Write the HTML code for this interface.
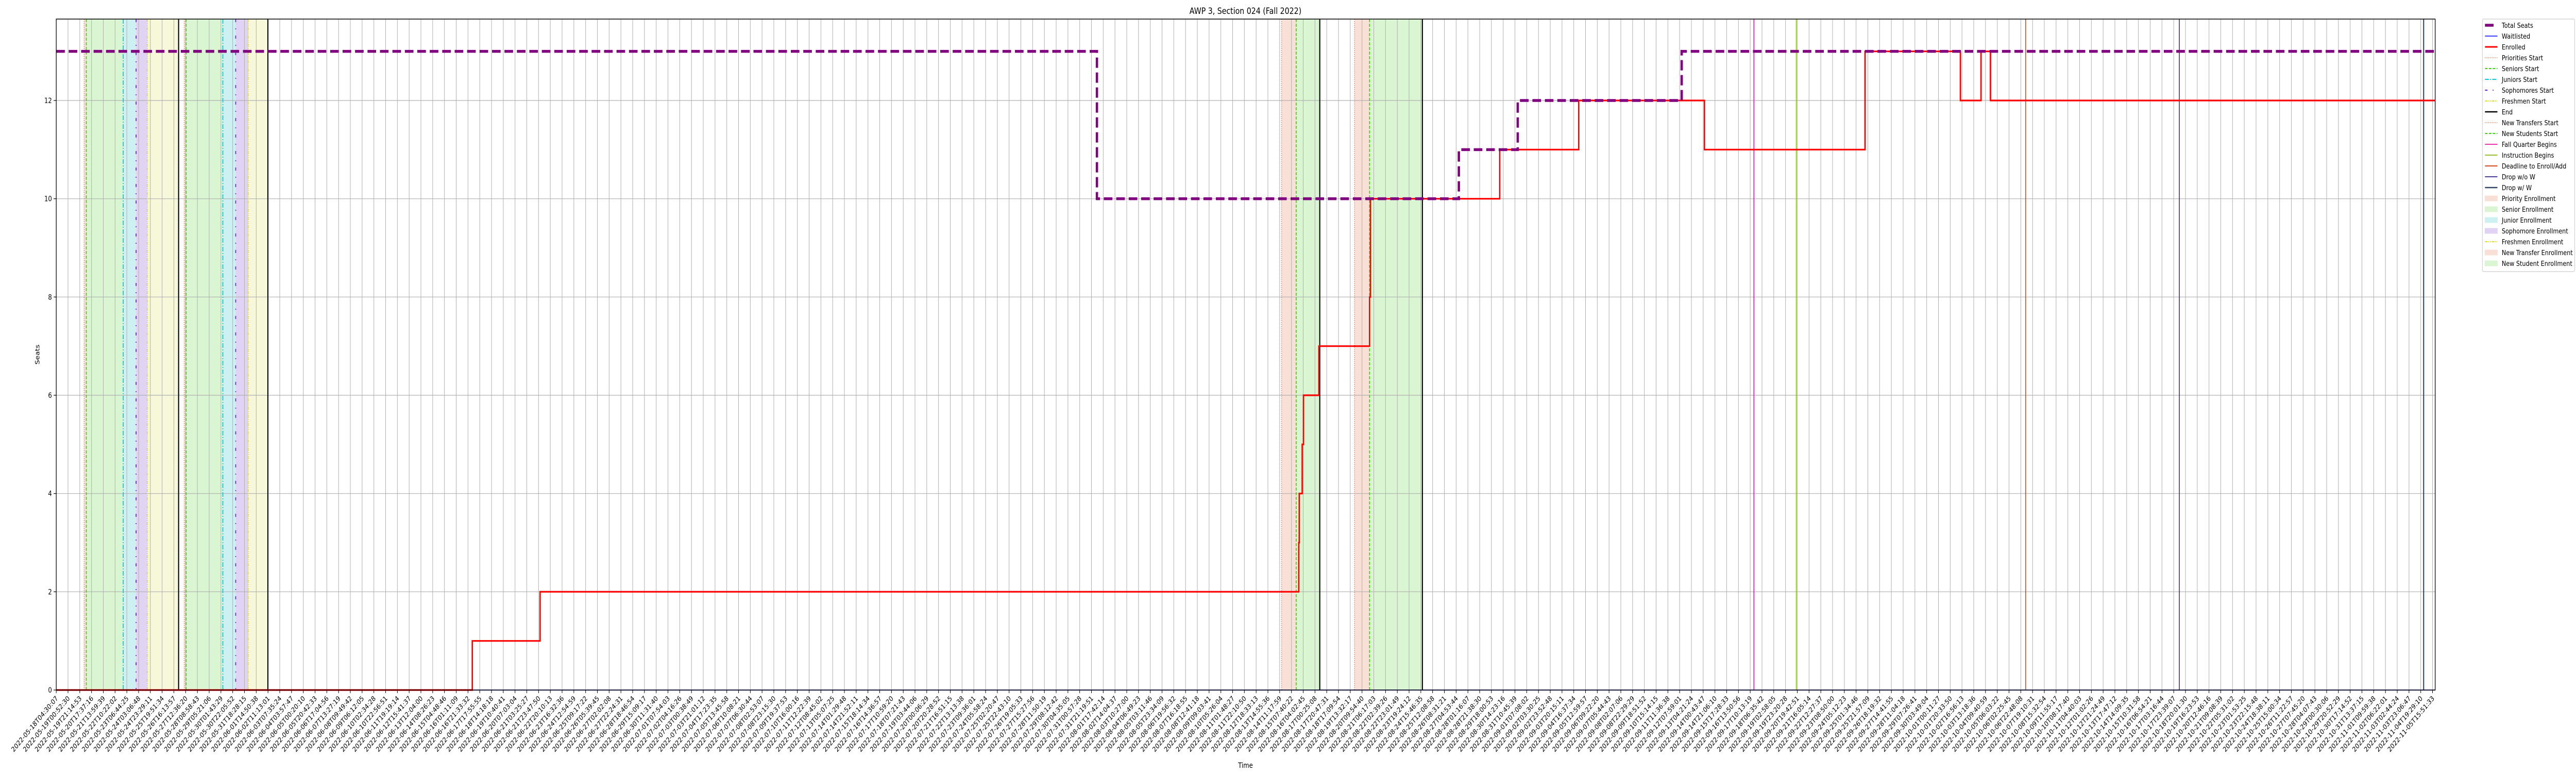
<!DOCTYPE html>
<html><head><meta charset="utf-8"><title>AWP 3, Section 024 (Fall 2022)</title>
<style>html,body{margin:0;padding:0;background:#fff;width:100%;height:100%;overflow:hidden;}svg{display:block;width:100vw;height:100vh;font-family:"DejaVu Sans","Liberation Sans",sans-serif;}</style>
</head><body>
<svg id="chart" viewBox="0 0 6000 1500" preserveAspectRatio="none" xmlns="http://www.w3.org/2000/svg">
<text x="2901" y="27" font-size="17" text-anchor="middle">AWP 3, Section 024 (Fall 2022)</text>
<text x="0" y="0" font-size="14" text-anchor="middle" transform="translate(92,688) rotate(-90)">Seats</text>
<text x="2901" y="1490" font-size="14" text-anchor="middle">Time</text>
<g id="bands"></g><g id="grid"></g><g id="vlines"></g><g id="series"></g><g id="axes"></g><g id="legend"></g>
</svg>
<script>
// ---- data ----
const axisStart = "2022-05-18T04:30:07";
const axisEnd = "2022-11-05T20:28:00";
const tickCount = 203;
const tickStepSeconds = 73343;
const yTicks = [0, 2, 4, 6, 8, 10, 12];

const enrolledTimes = ["2022-05-18T04:30:07","2022-06-17T05:00:00","2022-06-22T02:25:00","2022-08-15T20:24:00","2022-08-15T21:10:00","2022-08-16T02:17:00","2022-08-16T04:30:00","2022-08-17T07:12:00","2022-08-20T23:00:00","2022-08-21T00:30:00","2022-08-30T08:24:00","2022-09-05T01:12:00","2022-09-14T02:53:00","2022-09-25T17:02:00","2022-10-02T14:10:00","2022-10-04T01:55:00","2022-10-04T18:14:00"];
const enrolledValues = [0,1,2,3,4,5,6,7,8,10,11,12,11,13,12,13,12];

const seatTimes = ["2022-05-18T04:30:07","2022-08-01T06:50:00","2022-08-27T09:36:00","2022-08-31T15:36:00","2022-09-12T11:30:00"];
const seatValues = [13,10,11,12,13];

const waitTimes = ["2022-05-18T04:30:07"];
const waitValues = [0];

const bandStarts = ["2022-05-20T04:50:00","2022-05-20T08:33:00","2022-05-23T00:30:00","2022-05-23T22:47:00","2022-05-24T18:07:00",
                    "2022-05-27T10:05:00","2022-05-27T13:26:00","2022-05-30T05:00:00","2022-05-31T03:17:00","2022-06-01T00:52:00",
                    "2022-08-14T14:38:00","2022-08-15T15:50:00","2022-08-19T20:55:00","2022-08-20T23:00:00"];
const bandEnds   = ["2022-05-20T08:33:00","2022-05-23T00:30:00","2022-05-23T22:47:00","2022-05-24T18:07:00","2022-05-27T00:25:00",
                    "2022-05-27T13:26:00","2022-05-30T05:00:00","2022-05-31T03:17:00","2022-06-01T00:52:00","2022-06-02T11:03:00",
                    "2022-08-15T15:50:00","2022-08-17T08:45:00","2022-08-20T23:00:00","2022-08-24T18:29:00"];
const bandKinds  = ["priority","senior","junior","sophomore","freshmen","priority","senior","junior","sophomore","freshmen","transfer","newstudent","transfer","newstudent"];

const lineTimes = ["2022-05-20T04:50:00","2022-05-20T08:33:00","2022-05-23T00:30:00","2022-05-23T22:47:00","2022-05-24T18:07:00","2022-05-27T00:25:00",
                   "2022-05-27T10:05:00","2022-05-27T13:26:00","2022-05-30T05:00:00","2022-05-31T03:17:00","2022-06-01T00:52:00","2022-06-02T11:03:00",
                   "2022-08-14T14:38:00","2022-08-15T15:50:00","2022-08-17T08:45:00","2022-08-19T20:55:00","2022-08-20T23:00:00","2022-08-24T18:29:00",
                   "2022-09-17T16:33:00","2022-09-20T18:00:00","2022-10-07T07:12:00","2022-10-18T09:22:00","2022-11-05T00:29:00"];
const lineKinds = ["priorities","seniors","juniors","sophomores","freshmen","end",
                   "priorities","seniors","juniors","sophomores","freshmen","end",
                   "transfers","newstudents","end","transfers","newstudents","end",
                   "fallbegins","instruction","deadline","dropwow","dropww"];

// ---- styles ----
const bandColor = {priority:"#f9e0d6",senior:"#d9f5d2",junior:"#cdf0f2",sophomore:"#e1d3f4",freshmen:"#f7f8da",transfer:"#f9e0d6",newstudent:"#d9f5d2"};
const lineStyle = {
  priorities:{c:"#f06a30",w:1.6,d:"1.5,2.5"}, seniors:{c:"#44cc11",w:2,d:"6,3"}, juniors:{c:"#00c8d8",w:2,d:"9,3,2,3"},
  sophomores:{c:"#6a1fd8",w:2,d:"6,12,2,12"}, freshmen:{c:"#dddd22",w:2,d:"6,2,2,2,2,2"}, end:{c:"#000",w:2.5,d:""},
  transfers:{c:"#f06a30",w:1.6,d:"1.5,2.5"}, newstudents:{c:"#44cc11",w:2,d:"6,3"},
  fallbegins:{c:"#e815a8",w:1.8,d:""}, instruction:{c:"#88b814",w:1.8,d:""}, deadline:{c:"#d44a1e",w:2,d:""},
  dropwow:{c:"#332288",w:1.8,d:""}, dropww:{c:"#334466",w:2.5,d:""}
};
const NS = "http://www.w3.org/2000/svg";
const L = 131, R = 5672, T = 37, B = 1339;
const t0 = Date.parse(axisStart + "Z"), t1 = Date.parse(axisEnd + "Z");
function xs(s){ const t = (typeof s === "number") ? s : Date.parse(s + "Z"); return L + (t - t0) / (t1 - t0) * (R - L); }
function ys(v){ return B - v / 12 * (B - 195); }
function mk(tag, attrs, parent){ const e = document.createElementNS(NS, tag); for (const k in attrs) e.setAttribute(k, attrs[k]); parent.appendChild(e); return e; }

const gBands = document.getElementById("bands"), gGrid = document.getElementById("grid"),
      gV = document.getElementById("vlines"), gS = document.getElementById("series"),
      gA = document.getElementById("axes"), gL = document.getElementById("legend");

for (let i = 0; i < bandStarts.length; i++) {
  const x0 = xs(bandStarts[i]), x1 = xs(bandEnds[i]);
  const r = mk("rect", {x:x0, y:T, width:x1 - x0, height:B - T, fill:bandColor[bandKinds[i]]}, gBands);
  
  
}
for (let i = 0; i < tickCount; i++) {
  const t = t0 + i * tickStepSeconds * 1000;
  const x = xs(t);
  const gl = mk("line", {x1:x, x2:x, y1:T, y2:B, stroke:"#b0b0b0", "stroke-width":1.2}, gGrid);
  
  
  mk("line", {x1:x, x2:x, y1:B, y2:B + 6, stroke:"#000", "stroke-width":1.2}, gA);
  const lab = new Date(t).toISOString().slice(0, 19);
  const tx = mk("text", {x:0, y:0, "font-size":13.5, "text-anchor":"end", transform:"translate(" + (x + 5) + "," + (B + 17) + ") rotate(-45)"}, gA);
  tx.textContent = lab;
  
  
}
yTicks.forEach(v => {
  const y = ys(v);
  const gl = mk("line", {x1:L, x2:R, y1:y, y2:y, stroke:"#b0b0b0", "stroke-width":1.2}, gGrid);
  
  
  mk("line", {x1:L - 6, x2:L, y1:y, y2:y, stroke:"#000", "stroke-width":1.2}, gA);
  const tx = mk("text", {x:L - 10, y:y + 5, "font-size":14, "text-anchor":"end"}, gA);
  tx.textContent = String(v);
  
  
});
for (let i = 0; i < lineTimes.length; i++) {
  const s = lineStyle[lineKinds[i]], x = xs(lineTimes[i]);
  const ln = mk("line", {x1:x, x2:x, y1:T, y2:B, stroke:s.c, "stroke-width":s.w}, gV);
  if (s.d) ln.setAttribute("stroke-dasharray", s.d);
  
  
}
function stepPath(times, vals){
  let d = "M" + xs(times[0]) + "," + ys(vals[0]);
  for (let i = 1; i < times.length; i++) { const x = xs(times[i]); d += " H" + x + " V" + ys(vals[i]); }
  return d + " H" + R;
}
const wl = mk("path", {d:stepPath(waitTimes, waitValues), fill:"none", stroke:"#0000ff", "stroke-width":1.6}, gS);


const en = mk("path", {d:stepPath(enrolledTimes, enrolledValues), fill:"none", stroke:"#ff0000", "stroke-width":3.2}, gS);


const ts = mk("path", {d:stepPath(seatTimes, seatValues), fill:"none", stroke:"#800080", "stroke-width":5.5, "stroke-dasharray":"20,9"}, gS);


const fr = mk("rect", {x:L, y:T, width:R - L, height:B - T, fill:"none", stroke:"#000", "stroke-width":1.5}, gA);



const legendLabels = ["Total Seats","Waitlisted","Enrolled","Priorities Start","Seniors Start","Juniors Start","Sophomores Start","Freshmen Start","End","New Transfers Start","New Students Start","Fall Quarter Begins","Instruction Begins","Deadline to Enroll/Add","Drop w/o W","Drop w/ W","Priority Enrollment","Senior Enrollment","Junior Enrollment","Sophomore Enrollment","Freshmen Enrollment","New Transfer Enrollment","New Student Enrollment"];
const legendKeys = ["seats","wait","enrolled","priorities","seniors","juniors","sophomores","freshmen","end","transfers","newstudents","fallbegins","instruction","deadline","dropwow","dropww","priority","senior","junior","sophomore","freshmen","transfer","newstudent"];
const lb = mk("rect", {x:5782, y:37, width:215, height:490, rx:3, fill:"#fff", stroke:"#cccccc", "stroke-width":1.2}, gL);


legendLabels.forEach((lab, i) => {
  const y = 49 + i * 21, k = legendKeys[i];
  const g = mk("g", {}, gL);
  
  
  if (k === "seats") mk("line", {x1:5788, x2:5808, y1:y, y2:y, stroke:"#800080", "stroke-width":5.5}, g);
  else if (k === "wait") mk("line", {x1:5788, x2:5817, y1:y, y2:y, stroke:"#0000ff", "stroke-width":1.6}, g);
  else if (k === "enrolled") mk("line", {x1:5788, x2:5817, y1:y, y2:y, stroke:"#ff0000", "stroke-width":3}, g);
  else if (lineStyle[k]) { const s = lineStyle[k]; const ln = mk("line", {x1:5788, x2:5817, y1:y, y2:y, stroke:s.c, "stroke-width":s.w}, g); if (s.d) ln.setAttribute("stroke-dasharray", s.d); }
  else mk("rect", {x:5788, y:y - 5, width:29, height:10, fill:bandColor[k], stroke:bandColor[k]}, g);
  const tx = mk("text", {x:5827, y:y + 5, "font-size":13.5}, g);
  tx.textContent = lab;
});
</script>
</body></html>
